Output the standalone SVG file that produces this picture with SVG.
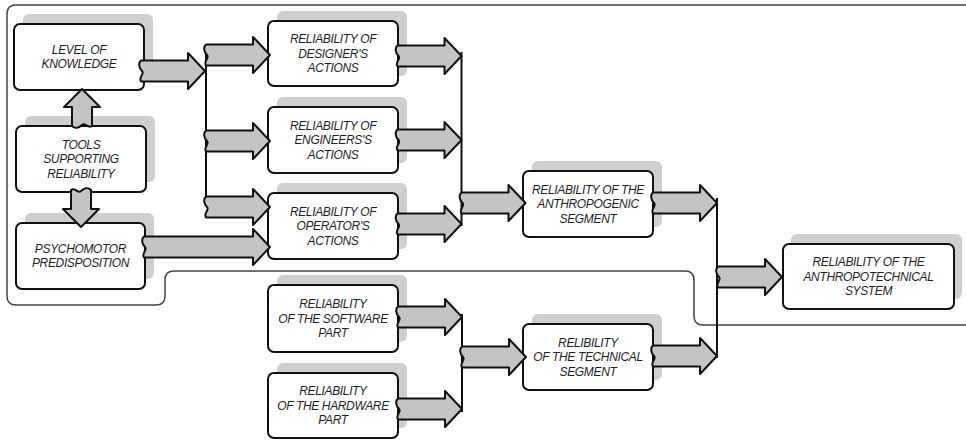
<svg xmlns="http://www.w3.org/2000/svg" xmlns:xlink="http://www.w3.org/1999/xlink" width="966" height="441" viewBox="0 0 966 441">
<style>
.bg{fill:#ffffff}
.frame{fill:none;stroke:#444;stroke-width:1.5}
.sh{fill:#cfcfcf}
.box{fill:#ffffff;stroke:#111;stroke-width:2}
.t{font-family:"Liberation Sans",Arial,sans-serif;font-style:italic;font-size:12px;letter-spacing:-0.35px;fill:#1e1e1e;text-anchor:middle}
.bus{stroke:#111;stroke-width:2;fill:none}
.arr{fill:#c4c4c4;stroke:#111;stroke-width:2;stroke-linejoin:round}
</style>
<defs>
<path id="arr" d="M0,-10.5 L47,-10.5 L47,-18 L64,0 L47,18 L47,10.5 L0,10.5 C-3,6 4,3 1,0 C-2,-3 -3,-8 0,-10.5 Z"/>
<path id="arrL" d="M0,-10.5 L109,-10.5 L109,-18 L126,0 L109,18 L109,10.5 L0,10.5 C-3,6 4,3 1,0 C-2,-3 -3,-8 0,-10.5 Z"/>
<path id="arrS" d="M0,-10 L19,-10 L19,-18 L37,0 L19,18 L19,10 L0,10 C-3,6 4,3 1,0 C-2,-3 -3,-7 0,-10 Z"/>
</defs>
<rect class="bg" x="0" y="0" width="966" height="441"/>
<path class="frame" d="M7,14 Q7,5 16,5 L980,5 L980,325 L703,325 Q694,325 694,316 L694,280 Q694,271 685,271 L174,271 Q165,271 165,280 L165,296 Q165,305 156,305 L16,305 Q7,305 7,296 Z"/>

<g id="node-knowledge">
<rect class="sh" x="23" y="14" width="130" height="66" rx="6"/>
<rect class="box" x="14" y="24" width="130" height="66" rx="6"/>
<text class="t" x="79" y="53.5">LEVEL OF</text>
<text class="t" x="79" y="68">KNOWLEDGE</text>
</g>
<g id="node-tools">
<rect class="sh" x="25" y="116" width="130" height="66" rx="6"/>
<rect class="box" x="16" y="126" width="130" height="66" rx="6"/>
<text class="t" x="81" y="148.5">TOOLS</text>
<text class="t" x="81" y="163">SUPPORTING</text>
<text class="t" x="81" y="177.5">RELIABILITY</text>
</g>
<g id="node-psychomotor">
<rect class="sh" x="25" y="213" width="129" height="66" rx="6"/>
<rect class="box" x="16" y="223" width="129" height="66" rx="6"/>
<text class="t" x="80.5" y="252.5">PSYCHOMOTOR</text>
<text class="t" x="80.5" y="267">PREDISPOSITION</text>
</g>
<g id="node-designer">
<rect class="sh" x="277" y="11" width="130" height="65" rx="6"/>
<rect class="box" x="268" y="21" width="130" height="65" rx="6"/>
<text class="t" x="333" y="43">RELIABILITY OF</text>
<text class="t" x="333" y="57.5">DESIGNER'S</text>
<text class="t" x="333" y="72">ACTIONS</text>
</g>
<g id="node-engineers">
<rect class="sh" x="277" y="97" width="130" height="66" rx="6"/>
<rect class="box" x="268" y="107" width="130" height="66" rx="6"/>
<text class="t" x="333" y="129.5">RELIABILITY OF</text>
<text class="t" x="333" y="144">ENGINEERS'S</text>
<text class="t" x="333" y="158.5">ACTIONS</text>
</g>
<g id="node-operator">
<rect class="sh" x="277" y="183" width="130" height="66" rx="6"/>
<rect class="box" x="268" y="193" width="130" height="66" rx="6"/>
<text class="t" x="333" y="215.5">RELIABILITY OF</text>
<text class="t" x="333" y="230">OPERATOR'S</text>
<text class="t" x="333" y="244.5">ACTIONS</text>
</g>
<g id="node-software">
<rect class="sh" x="277" y="275" width="130" height="67" rx="6"/>
<rect class="box" x="268" y="285" width="130" height="67" rx="6"/>
<text class="t" x="333" y="308">RELIABILITY</text>
<text class="t" x="333" y="322.5">OF THE SOFTWARE</text>
<text class="t" x="333" y="337">PART</text>
</g>
<g id="node-hardware">
<rect class="sh" x="277" y="363" width="130" height="65" rx="6"/>
<rect class="box" x="268" y="373" width="130" height="65" rx="6"/>
<text class="t" x="333" y="395">RELIABILITY</text>
<text class="t" x="333" y="409.5">OF THE HARDWARE</text>
<text class="t" x="333" y="424">PART</text>
</g>
<g id="node-anthropogenic">
<rect class="sh" x="532" y="161" width="130" height="66" rx="6"/>
<rect class="box" x="523" y="171" width="130" height="66" rx="6"/>
<text class="t" x="588" y="193.5">RELIABILITY OF THE</text>
<text class="t" x="588" y="208">ANTHROPOGENIC</text>
<text class="t" x="588" y="222.5">SEGMENT</text>
</g>
<g id="node-technical">
<rect class="sh" x="532" y="314" width="130" height="66" rx="6"/>
<rect class="box" x="523" y="324" width="130" height="66" rx="6"/>
<text class="t" x="588" y="346.5">RELIBILITY</text>
<text class="t" x="588" y="361">OF THE TECHNICAL</text>
<text class="t" x="588" y="375.5">SEGMENT</text>
</g>
<g id="node-anthropotechnical">
<rect class="sh" x="791" y="234" width="171" height="65" rx="6"/>
<rect class="box" x="783" y="244" width="171" height="65" rx="6"/>
<text class="t" x="868.5" y="266">RELIABILITY OF THE</text>
<text class="t" x="868.5" y="280.5">ANTHROPOTECHNICAL</text>
<text class="t" x="868.5" y="295">SYSTEM</text>
</g>

<g id="connectors">
<line class="bus" x1="206" y1="52" x2="206" y2="206"/>
<line class="bus" x1="461.5" y1="52" x2="461.5" y2="226"/>
<line class="bus" x1="717" y1="198" x2="717" y2="358"/>
<line class="bus" x1="462" y1="314" x2="462" y2="412"/>
<use href="#arrS" class="arr" transform="translate(82,126) rotate(-90)"/>
<use href="#arrS" class="arr" transform="translate(81,190) rotate(90)"/>
<use href="#arr" class="arr" transform="translate(141,71)"/>
<use href="#arr" class="arr" transform="translate(206,55)"/>
<use href="#arr" class="arr" transform="translate(206,141)"/>
<use href="#arr" class="arr" transform="translate(206,207)"/>
<use href="#arrL" class="arr" transform="translate(144,247)"/>
<use href="#arr" class="arr" transform="translate(397.5,56)"/>
<use href="#arr" class="arr" transform="translate(397.5,140)"/>
<use href="#arr" class="arr" transform="translate(397.5,224)"/>
<use href="#arr" class="arr" transform="translate(461.5,203)"/>
<use href="#arr" class="arr" transform="translate(653,203)"/>
<use href="#arr" class="arr" transform="translate(718,277)"/>
<use href="#arr" class="arr" transform="translate(398,317)"/>
<use href="#arr" class="arr" transform="translate(398,409)"/>
<use href="#arr" class="arr" transform="translate(462,357)"/>
<use href="#arr" class="arr" transform="translate(653,356)"/>
</g>
</svg>
